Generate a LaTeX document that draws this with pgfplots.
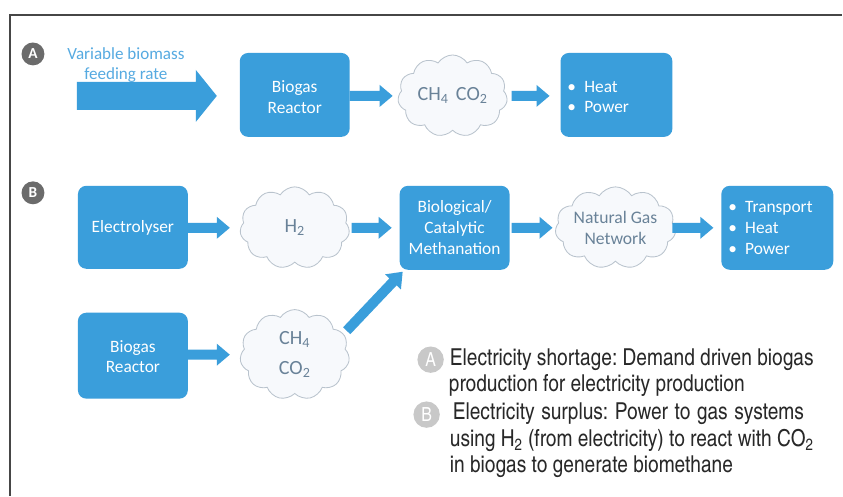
\documentclass[border=0pt]{standalone}
\usepackage{pgfplots}
\pgfplotsset{compat=1.18}
\usepackage{fontspec}
\setmainfont{Carlito}
\newfontfamily\cn{texgyreheroscn-regular.otf}
\usetikzlibrary{shapes.symbols}
\frenchspacing

\definecolor{boxblue}{RGB}{58,158,219}
\definecolor{lightblue}{RGB}{86,170,225}
\definecolor{cloudfill}{RGB}{247,249,252}
\definecolor{cloudline}{RGB}{185,195,205}
\definecolor{cloudtext}{RGB}{105,130,152}
\definecolor{frame}{RGB}{70,70,70}
\definecolor{legtext}{RGB}{40,40,40}
\definecolor{leggray}{RGB}{200,200,200}

\tikzset{
    mycloud/.style={cloud, cloud puffs=11, cloud puff arc=115, cloud ignores aspect,
        draw=cloudline, fill=cloudfill, line width=0.6pt, inner sep=0pt,
        minimum width=79pt, minimum height=59pt, text=cloudtext, align=center,
        font=\fontsize{14.5}{15}\selectfont},
    boxtext/.style={text=white, align=center, font=\fontsize{12.5}{15}\selectfont},
}

\begin{document}
\begin{tikzpicture}
\begin{axis}[
    width=606.96pt, height=357.12pt,
    scale only axis,
    xmin=0, xmax=843, ymin=0, ymax=496,
    y dir=reverse,
    hide axis,
    clip=false,
    arr/.style={no markers, draw=none, fill=boxblue},
]
% background and frame
\addplot[arr, fill=white] coordinates {(0,0) (843,0) (843,496) (0,496)} -- cycle;
\draw[frame, line width=1.1pt] (10,496) -- (10,15) -- (843,15);

% ---------- row A ----------
\node[circle, fill=frame!80, text=white, inner sep=0pt, minimum size=16.5pt,
      font=\bfseries\fontsize{11}{11}\selectfont] at (33,54) {A};
\node[text=lightblue, align=center, font=\fontsize{12.3}{14.4}\selectfont]
    at (126,65) {Variable biomass\\feeding rate};
% big input arrow
\addplot[arr] coordinates {(77,82) (196,82) (196,70) (217,96) (196,122) (196,110) (77,110)} -- cycle;
% biogas reactor
\addplot[arr, rounded corners=6pt] coordinates {(240,53) (350,53) (350,137) (240,137)} -- cycle;
\node[boxtext] at (295,97) {Biogas\\Reactor};
\addplot[arr] coordinates {(350,91) (380,91) (380,85) (393,96) (380,107) (380,101) (350,101)} -- cycle;
\node[mycloud] at (453,96) {CH\textsubscript{4}\hspace{2pt} CO\textsubscript{2}};
\addplot[arr] coordinates {(512,91) (537,91) (537,85) (550,96) (537,107) (537,101) (512,101)} -- cycle;
\addplot[arr, rounded corners=6pt] coordinates {(561,53) (673,53) (673,137) (561,137)} -- cycle;
\node[text=white, align=left, anchor=west, font=\fontsize{12.5}{15}\selectfont]
    at (563,97) {\textbullet\hspace{6pt}Heat\\\textbullet\hspace{6pt}Power};

% ---------- row B ----------
\node[circle, fill=frame!80, text=white, inner sep=0pt, minimum size=16.5pt,
      font=\bfseries\fontsize{11}{11}\selectfont] at (33,193) {B};
\addplot[arr, rounded corners=6pt] coordinates {(78,186) (188,186) (188,269) (78,269)} -- cycle;
\node[boxtext] at (133,228) {Electrolyser};
\addplot[arr] coordinates {(188,223) (217,223) (217,217) (230,228) (217,239) (217,233) (188,233)} -- cycle;
\node[mycloud] at (295,228) {H\textsubscript{2}};
\addplot[arr] coordinates {(352,223) (379,223) (379,217) (392,228) (379,239) (379,233) (352,233)} -- cycle;
\addplot[arr, rounded corners=6pt] coordinates {(400,186) (510,186) (510,270) (400,270)} -- cycle;
\node[boxtext] at (455,228) {Biological/\\Catalytic\\Methanation};
\addplot[arr] coordinates {(512,223) (540,223) (540,217) (553,228) (540,239) (540,233) (512,233)} -- cycle;
\node[mycloud, font=\fontsize{12.7}{15}\selectfont] at (616,228) {Natural Gas\\Network};
\addplot[arr] coordinates {(673,223) (701,223) (701,217) (714,228) (701,239) (701,233) (673,233)} -- cycle;
\addplot[arr, rounded corners=6pt] coordinates {(722,186) (834,186) (834,270) (722,270)} -- cycle;
\node[text=white, align=left, anchor=west, font=\fontsize{12.5}{15}\selectfont]
    at (724,228) {\textbullet\hspace{6pt}Transport\\\textbullet\hspace{6pt}Heat\\\textbullet\hspace{6pt}Power};

\addplot[arr, rounded corners=6pt] coordinates {(78,313) (188,313) (188,399) (78,399)} -- cycle;
\node[boxtext] at (133,357) {Biogas\\Reactor};
\addplot[arr] coordinates {(188,350) (217,350) (217,344) (230,355) (217,366) (217,360) (188,360)} -- cycle;
\node[mycloud, minimum height=65pt, font=\fontsize{14.5}{21.5}\selectfont] at (295,355) {CH\textsubscript{4}\\CO\textsubscript{2}};
% diagonal arrow to methanation
\addplot[arr] coordinates {(350.6,334.5) (397.0,285.6) (401.3,289.7) (403,272) (385.4,274.6) (389.7,278.7) (343.4,327.6)} -- cycle;

% ---------- legend text ----------
\node[circle, fill=leggray, text=white, inner sep=0pt, minimum size=19pt,
      font=\cn\fontsize{14}{14}\selectfont] at (431,360) {A};
\node[circle, fill=leggray, text=white, inner sep=0pt, minimum size=19pt,
      font=\cn\fontsize{14}{14}\selectfont] at (427,415) {B};
\begin{scope}[every node/.style={anchor=base west, text=legtext, inner sep=0pt,
      font=\cn\fontsize{16.8}{18}\selectfont}]
\node at (450,366) {Electricity shortage: Demand driven biogas};
\node at (449,392) {production for electricity production};
\node at (453,420) {\makebox[253pt][s]{Electricity surplus: Power to gas systems}};
\node at (450,447) {using H\textsubscript{2} (from electricity) to react with CO\textsubscript{2}};
\node at (450,473) {in biogas to generate biomethane};
\end{scope}
\end{axis}
\end{tikzpicture}
\end{document}
